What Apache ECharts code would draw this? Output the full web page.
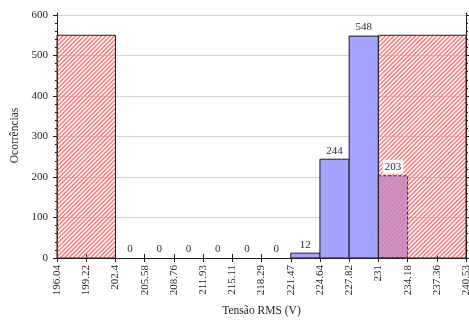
<!DOCTYPE html>
<html>
<head>
<meta charset="utf-8">
<script src="https://cdn.jsdelivr.net/npm/echarts@6/dist/echarts.min.js"></script>
<style>
  html, body { margin: 0; padding: 0; background: #fff; }
  #chart { width: 469px; height: 320px; }
</style>
</head>
<body>
<div id="chart"></div>
<script>
// Histogram bin edges (also used as x tick labels)
const binEdges = [196.04, 199.22, 202.4, 205.58, 208.76, 211.93, 215.11, 218.29,
                  221.47, 224.64, 227.82, 231, 234.18, 237.36, 240.53];
// Counts of the measured bins, starting at the lower limit (202.4)
const counts = [0, 0, 0, 0, 0, 0, 12, 244, 548, 203];
// Tolerance limits: everything outside them is shaded
const lowerLimit = 202.4;
const upperLimit = 231;
const bandHeight = 550;
// Y axis ticks
const yTicks = [0, 100, 200, 300, 400, 500, 600];
const yMinorStep = 20;

const FONT = '"Liberation Serif", "DejaVu Serif", serif';
const INK = '#1e1e1e';
const HATCH = 'rgb(255,118,118)';
const HATCH_STEP = 4.3;
const HATCH_WIDTH = 1.45;
const xMin = binEdges[0];
const xMax = binEdges[binEdges.length - 1];
const yMax = 605;

const yMinor = [];
for (let v = 0; v <= yTicks[yTicks.length - 1]; v += yMinorStep) {
  if (v % 100 !== 0) yMinor.push(v);
}

// Measured bins as [start, end, count]
const firstBin = binEdges.indexOf(lowerLimit);
const bins = counts.map((c, i) => [binEdges[firstBin + i], binEdges[firstBin + i + 1], c]);
// Shaded out-of-range bands as [start, end, height]
const bands = [[xMin, lowerLimit, bandHeight], [upperLimit, xMax, bandHeight]];

function rectOf(api) {
  const p0 = api.coord([api.value(0), api.value(2)]);
  const p1 = api.coord([api.value(1), 0]);
  return { x: p0[0], y: p0[1], width: p1[0] - p0[0], height: p1[1] - p0[1] };
}

// "/" hatch lines clipped to a rectangle (screen space: x + y = k)
function hatchLines(r) {
  const x0 = r.x, x1 = r.x + r.width, y0 = r.y, y1 = r.y + r.height;
  const out = [];
  const kStart = Math.ceil((x0 + y0) / HATCH_STEP) * HATCH_STEP;
  for (let k = kStart; k <= x1 + y1; k += HATCH_STEP) {
    const ax = Math.max(x0, k - y1), bx = Math.min(x1, k - y0);
    if (bx <= ax) continue;
    out.push({
      type: 'line', silent: true,
      shape: { x1: ax, y1: k - ax, x2: bx, y2: k - bx },
      style: { stroke: HATCH, lineWidth: HATCH_WIDTH }
    });
  }
  return out;
}

const chart = echarts.init(document.getElementById('chart'), null, { renderer: 'canvas' });

const tickLine = { color: INK, width: 1 };
const labelFmt = v => String(+Number(v).toFixed(2));

chart.setOption({
  animation: false,
  backgroundColor: '#fff',
  grid: { left: 57, right: 3, top: 13, bottom: 62, containLabel: false, outerBoundsMode: 'none' },
  xAxis: [
    {
      type: 'value', min: xMin, max: xMax, position: 'bottom',
      axisLine: { show: true, lineStyle: tickLine },
      axisTick: { show: true, customValues: binEdges, length: 4, lineStyle: tickLine },
      axisLabel: { customValues: binEdges, rotate: 90, margin: 7, fontFamily: FONT, fontSize: 11,
                   color: INK, formatter: labelFmt, hideOverlap: false },
      splitLine: { show: false },
      name: 'Tensão RMS (V)', nameLocation: 'middle', nameGap: 47,
      nameTextStyle: { fontFamily: FONT, fontSize: 11.5, color: INK }
    },
    {
      type: 'value', min: xMin, max: xMax, position: 'top',
      axisLine: { show: true, lineStyle: tickLine },
      axisTick: { show: true, customValues: binEdges, length: 4, lineStyle: tickLine },
      axisLabel: { show: false },
      splitLine: { show: false }
    }
  ],
  yAxis: [
    {
      type: 'value', min: 0, max: yMax, interval: 100, position: 'left',
      axisLine: { show: true, lineStyle: tickLine },
      axisTick: { show: true, customValues: yTicks, length: 4, lineStyle: tickLine },
      axisLabel: { customValues: yTicks, margin: 9, fontFamily: FONT, fontSize: 11, color: INK },
      splitLine: { show: true, lineStyle: { color: '#d2d2d2', width: 1 } },
      name: 'Ocorrências', nameLocation: 'middle', nameGap: 33,
      nameTextStyle: { fontFamily: FONT, fontSize: 11.5, color: INK }
    },
    {
      type: 'value', min: 0, max: yMax, position: 'left',
      axisLine: { show: false },
      axisTick: { show: true, customValues: yMinor, length: 2, lineStyle: tickLine },
      axisLabel: { show: false }, splitLine: { show: false }
    },
    {
      type: 'value', min: 0, max: yMax, position: 'right',
      axisLine: { show: true, lineStyle: tickLine },
      axisTick: { show: true, customValues: yTicks, length: 4, lineStyle: tickLine },
      axisLabel: { show: false }, splitLine: { show: false }
    },
    {
      type: 'value', min: 0, max: yMax, position: 'right',
      axisLine: { show: false },
      axisTick: { show: true, customValues: yMinor, length: 2, lineStyle: tickLine },
      axisLabel: { show: false }, splitLine: { show: false }
    }
  ],
  series: [
    {
      // measured bins
      type: 'custom', xAxisIndex: 0, yAxisIndex: 0, z: 2, clip: false,
      data: bins,
      renderItem: (params, api) => {
        if (api.value(2) <= 0) return null;
        const dashed = api.value(0) >= upperLimit;
        return {
          type: 'rect', shape: rectOf(api),
          style: { fill: '#a3a3ff', stroke: dashed ? null : INK, lineWidth: 1 }
        };
      }
    },
    {
      // out-of-range shading: hatch lines plus outline
      type: 'custom', xAxisIndex: 0, yAxisIndex: 0, z: 3, clip: false,
      data: bands,
      renderItem: (params, api) => {
        const r = rectOf(api);
        const children = hatchLines(r);
        children.push({ type: 'rect', shape: r, style: { fill: 'none', stroke: INK, lineWidth: 1 } });
        return { type: 'group', children };
      }
    },
    {
      // count labels, plus dashed outline for bins beyond the upper limit
      type: 'custom', xAxisIndex: 0, yAxisIndex: 0, z: 4, clip: false,
      data: bins,
      renderItem: (params, api) => {
        const x0 = api.value(0), x1 = api.value(1), c = api.value(2);
        const p = api.coord([(x0 + x1) / 2, c]);
        const boxed = x0 >= upperLimit;
        const children = [];
        if (boxed) {
          children.push({
            type: 'rect', shape: rectOf(api),
            style: { fill: 'none', stroke: '#2a2a2a', lineWidth: 1, lineDash: [3, 2] }
          });
        }
        children.push({
          type: 'text', x: p[0], y: p[1] - (boxed ? 2 : 3),
          style: {
            text: String(c), fill: '#2b2b45', font: '11px ' + FONT,
            align: 'center', verticalAlign: 'bottom',
            backgroundColor: boxed ? '#fff' : null,
            padding: boxed ? [2, 2, 1, 2] : 0
          }
        });
        return { type: 'group', children };
      }
    }
  ]
});
</script>
</body>
</html>
